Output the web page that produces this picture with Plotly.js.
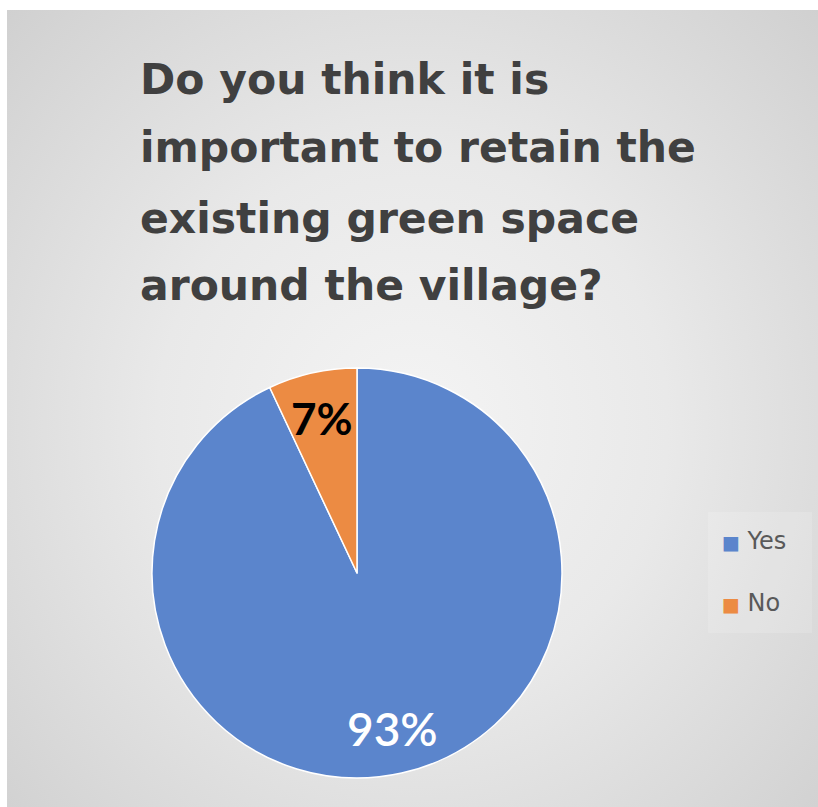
<!DOCTYPE html>
<html>
<head>
<meta charset="utf-8">
<script src="https://cdn.plot.ly/plotly-3.0.1.min.js"></script>
<style>
  html, body { margin: 0; padding: 0; background: #ffffff; }
  #bg { position: absolute; left: 7px; top: 10px; width: 811px; height: 797px;
        background: radial-gradient(ellipse 70% 75% at 50% 52%, #f4f4f4 0%, #e9e9e9 45%, #d0d0d0 100%); }
  #chart { position: absolute; left: 0; top: 0; width: 818px; height: 807px; }
</style>
</head>
<body>
<div id="bg"></div>
<div id="chart"></div>
<script>
const labels = ['Yes', 'No'];
const values = [93, 7];
const colors = ['#5b85cc', '#ec8b43'];
const titleLines = ['Do you think it is', 'important to retain the', 'existing green space', 'around the village?'];

const W = 818, H = 807;
const px = x => x / W;
const py = y => 1 - y / H;

const total = values.reduce((a, b) => a + b, 0);
const pct = values.map(v => Math.round(v / total * 100) + '%');

const trace = {
  type: 'pie',
  labels: labels,
  values: values,
  sort: false,
  direction: 'clockwise',
  rotation: 0,
  textinfo: 'none',
  hoverinfo: 'none',
  marker: { colors: colors, line: { color: '#ffffff', width: 1.5 } },
  domain: { x: [px(152), px(562)], y: [py(778), py(368)] },
  showlegend: false
};

const titleFont = '"DejaVu Sans", sans-serif';
const labelFont = 'Lato, "Open Sans", sans-serif';
const titleY = [80, 148, 218, 286];
const annotations = titleLines.map((t, i) => ({
  text: t, xref: 'paper', yref: 'paper', x: px(138), y: py(titleY[i]),
  xanchor: 'left', yanchor: 'middle', showarrow: false,
  font: { family: titleFont, size: 42.5, color: '#404040', weight: 'bold' }
}));

// slice labels
annotations.push({
  text: pct[1], xref: 'paper', yref: 'paper', x: px(322), y: py(418),
  xanchor: 'center', yanchor: 'middle', showarrow: false,
  font: { family: labelFont, size: 44, color: '#000000', weight: 'bold' }
});
annotations.push({
  text: pct[0], xref: 'paper', yref: 'paper', x: px(392), y: py(728),
  xanchor: 'center', yanchor: 'middle', showarrow: false,
  font: { family: labelFont, size: 46, color: '#ffffff', weight: 600 }
});

// legend
const legY = [541, 603];
labels.forEach((l, i) => {
  annotations.push({
    text: '<span style="color:' + colors[i] + ';font-size:19px">■</span> ' + l,
    xref: 'paper', yref: 'paper', x: px(720), y: py(legY[i]),
    xanchor: 'left', yanchor: 'middle', showarrow: false,
    font: { family: '"DejaVu Sans", sans-serif', size: 24, color: '#595959' }
  });
});

const layout = {
  width: W, height: H,
  margin: { l: 0, r: 0, t: 0, b: 0 },
  paper_bgcolor: 'rgba(0,0,0,0)',
  plot_bgcolor: 'rgba(0,0,0,0)',
  showlegend: false,
  annotations: annotations,
  shapes: [{
    type: 'rect', xref: 'paper', yref: 'paper',
    x0: px(708), x1: px(812), y0: py(633), y1: py(512),
    fillcolor: 'rgba(255,255,255,0.15)', line: { width: 0 }, layer: 'below'
  }]
};

Plotly.newPlot('chart', [trace], layout, { staticPlot: true, displayModeBar: false });
</script>
</body>
</html>
